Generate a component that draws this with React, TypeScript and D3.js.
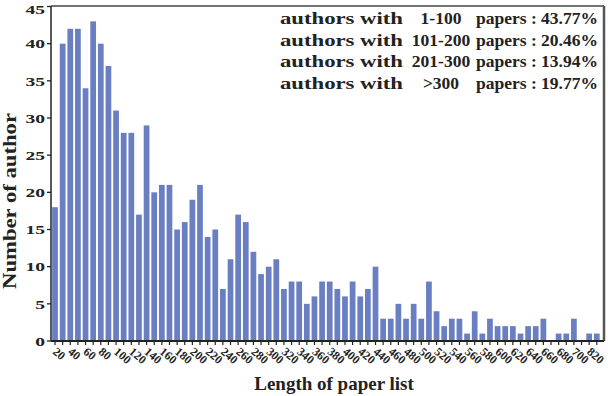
import React from "react";
import * as d3 from "d3";

// number of authors per paper-list length bin
const counts = [
  18, 40, 42, 42, 34, 43, 40, 37, 31, 28,
  28, 17, 29, 20, 21, 21, 15, 16, 19, 21,
  14, 15, 7, 11, 17, 16, 12, 9, 10, 11,
  7, 8, 8, 5, 6, 8, 8, 7, 6, 8,
  6, 7, 10, 3, 3, 5, 3, 5, 3, 8,
  4, 2, 3, 3, 1, 4, 1, 3, 2, 2,
  2, 1, 2, 2, 3, 0, 1, 1, 3, 0,
  1, 1,
];

// labels shown under every other bar
const tickLabels = [
  "20", "40", "60", "80", "100", "120", "140", "160", "180", "200",
  "220", "240", "260", "280", "300", "320", "340", "360", "380", "400",
  "420", "440", "460", "480", "500", "520", "540", "560", "580", "600",
  "620", "640", "660", "680", "700", "820",
];

const yTicks = [0, 5, 10, 15, 20, 25, 30, 35, 40, 45];

const legendRanges = ["1-100", "101-200", "201-300", ">300"];
const legendShares = ["43.77%", "20.46%", "13.94%", "19.77%"];

const W = 608;
const H = 396;
const plot = { left: 51, right: 604, top: 6, bottom: 341 };
const font = "'Liberation Serif', 'Times New Roman', serif";

export default function App() {
  const x = d3
    .scaleBand<number>()
    .domain(counts.map((_, i) => i))
    .range([51.2, 600.6])
    .paddingInner(0.25)
    .paddingOuter(0.125);

  const y = d3.scaleLinear().domain([0, 45]).range([plot.bottom, 6.5]);

  const center = (i: number) => (x(i) ?? 0) + x.bandwidth() / 2;

  return (
    <div style={{ position: "absolute", left: 0, top: 0 }}>
      <svg width={W} height={H} style={{ display: "block", background: "#fff" }}>
        {/* bars */}
        {counts.map((d, i) => (
          <rect
            key={i}
            x={x(i)}
            y={y(d)}
            width={x.bandwidth()}
            height={plot.bottom - y(d)}
            fill="#6a7fc2"
          />
        ))}

        {/* frame */}
        <line x1={plot.left} x2={plot.right} y1={plot.top} y2={plot.top} stroke="#444" strokeWidth={1.3} />
        <line x1={plot.right} x2={plot.right} y1={plot.top} y2={plot.bottom} stroke="#555" strokeWidth={2.5} />

        {/* y axis */}
        <line x1={plot.left} x2={plot.left} y1={plot.top} y2={plot.bottom} stroke="#222" strokeWidth={1.5} />
        {yTicks.map((t) => (
          <g key={t}>
            <line x1={plot.left - 4} x2={plot.left} y1={y(t)} y2={y(t)} stroke="#222" strokeWidth={1.3} />
            <text
              transform={`translate(45,${y(t) + (t === 45 ? 3 : 0)}) scale(1.45,1)`}
              dy="0.35em"
              textAnchor="end"
              fontFamily={font}
              fontWeight="bold"
              fontSize={13.5}
              fill="#222"
            >
              {t}
            </text>
          </g>
        ))}

        {/* x axis */}
        <line x1={plot.left} x2={plot.right} y1={plot.bottom} y2={plot.bottom} stroke="#222" strokeWidth={2} />
        {counts.map((_, i) => (
          <line
            key={i}
            x1={center(i)}
            x2={center(i)}
            y1={plot.bottom}
            y2={plot.bottom + 4}
            stroke="#222"
            strokeWidth={1.2}
          />
        ))}
        {tickLabels.map((lab, k) => (
          <text
            key={lab}
            transform={`translate(${center(k * 2) - 3},${plot.bottom + 12}) rotate(40)`}
            fontFamily={font}
            fontWeight="bold"
            fontSize={12}
            fill="#222"
          >
            {lab}
          </text>
        ))}

        {/* axis titles */}
        <text
          x={334}
          y={390}
          textAnchor="middle"
          fontFamily={font}
          fontWeight="bold"
          fontSize={19}
          fill="#222"
        >
          Length of paper list
        </text>
        <text
          transform={`translate(15.5,201) rotate(-90)`}
          textAnchor="middle"
          fontFamily={font}
          fontWeight="bold"
          fontSize={18}
          textLength={176}
          lengthAdjust="spacingAndGlyphs"
          fill="#222"
        >
          Number of author
        </text>

        {/* legend text */}
        {legendRanges.map((r, i) => {
          const yy = 24 + i * 21.7;
          return (
            <g key={r} fontFamily={font} fontWeight="bold" fontSize={17.5} fill="#222">
              <text x={280} y={yy} textLength={123} lengthAdjust="spacingAndGlyphs">
                authors with
              </text>
              <text x={441} y={yy} textAnchor="middle">
                {r}
              </text>
              <text x={598} y={yy} textAnchor="end">
                {`papers : ${legendShares[i]}`}
              </text>
            </g>
          );
        })}
      </svg>
    </div>
  );
}
